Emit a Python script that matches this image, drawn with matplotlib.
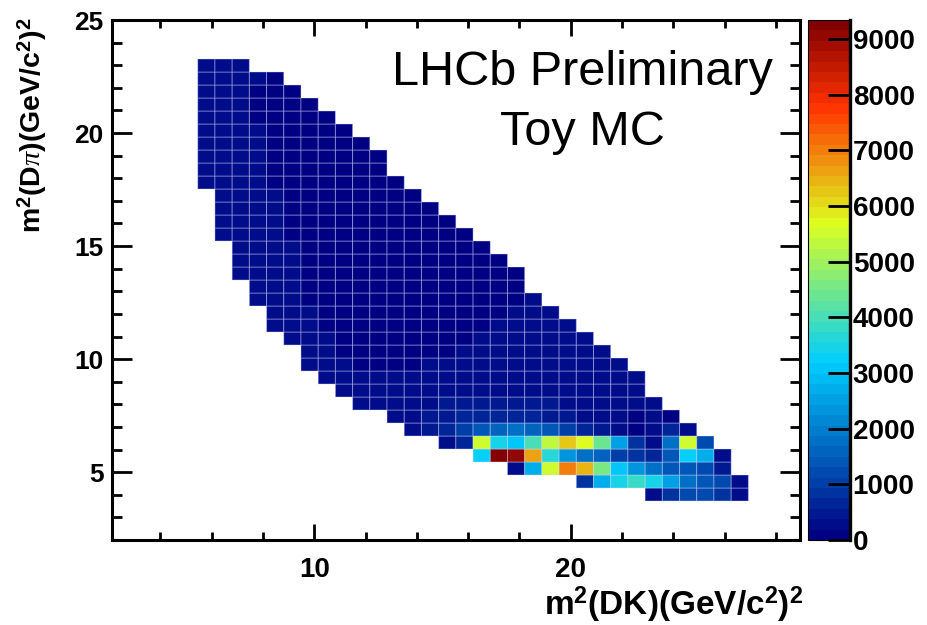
import numpy as np
import matplotlib
matplotlib.use('Agg')
import matplotlib.pyplot as plt
from matplotlib.colors import LinearSegmentedColormap, Normalize
from matplotlib.ticker import MultipleLocator

plt.rcParams['font.family'] = 'Liberation Sans'
plt.rcParams['mathtext.fontset'] = 'custom'
plt.rcParams['mathtext.rm'] = 'Liberation Sans:bold'
plt.rcParams['mathtext.bf'] = 'Liberation Sans:bold'
plt.rcParams['mathtext.it'] = 'Liberation Serif:italic'

# histogram binning: m2(DK) on x, m2(Dpi) on y
x_lo, x_hi, nx = 2.1, 28.94, 40
y_lo, y_hi, ny = 2.0, 25.0, 40
z_max = 9340

# filled rows (m2(Dpi) bin index), first filled m2(DK) bin, and the bin contents
row_index = [36, 35, 34, 33, 32, 31, 30, 29, 28, 27, 26, 25, 24, 23, 22, 21, 20,
             19, 18, 17, 16, 15, 14, 13, 12, 11, 10, 9, 8, 7, 6, 5, 4, 3]
row_start = [5, 5, 5, 5, 5, 5, 5, 5, 5, 5, 6, 6, 6, 6, 7, 7, 7,
             8, 8, 9, 9, 10, 11, 11, 12, 13, 14, 16, 17, 19, 21, 23, 27, 31]
row_counts = [
    [280, 320, 240],
    [300, 340, 260, 190, 170],
    [290, 320, 250, 180, 150, 150],
    [310, 300, 230, 170, 140, 130, 140],
    [300, 310, 220, 180, 150, 130, 120, 140],
    [290, 300, 230, 190, 150, 130, 120, 110, 130],
    [310, 320, 240, 190, 160, 140, 120, 110, 110, 120],
    [300, 330, 250, 200, 170, 140, 130, 120, 110, 100, 130],
    [320, 310, 240, 210, 170, 150, 130, 120, 110, 100, 120],
    [290, 320, 260, 200, 180, 150, 140, 120, 110, 110, 100, 130],
    [330, 270, 220, 190, 160, 140, 130, 120, 110, 100, 100, 120],
    [320, 260, 220, 190, 170, 150, 130, 120, 110, 100, 100, 110, 130],
    [310, 270, 230, 200, 170, 150, 140, 130, 120, 110, 100, 100, 110, 140],
    [300, 260, 220, 200, 180, 160, 140, 130, 120, 110, 100, 100, 110, 120, 150],
    [280, 240, 210, 190, 170, 150, 140, 130, 120, 110, 100, 110, 120, 130, 150],
    [270, 240, 220, 190, 170, 150, 140, 130, 120, 110, 110, 110, 120, 130, 140, 160],
    [260, 230, 210, 190, 170, 160, 150, 140, 130, 120, 110, 110, 120, 130, 140, 150, 170],
    [250, 220, 200, 180, 160, 150, 140, 130, 120, 120, 120, 130, 140, 150, 160, 180],
    [240, 220, 200, 180, 170, 160, 150, 140, 130, 130, 130, 140, 150, 160, 170, 180, 190],
    [230, 210, 190, 180, 170, 160, 150, 140, 140, 140, 150, 160, 170, 180, 190, 200, 200],
    [220, 210, 190, 180, 170, 160, 150, 150, 150, 150, 160, 170, 180, 190, 200, 210, 210, 200],
    [210, 200, 190, 180, 170, 160, 160, 160, 160, 170, 180, 190, 200, 210, 220, 220, 210, 200],
    [200, 190, 180, 170, 170, 170, 170, 170, 180, 190, 200, 210, 220, 230, 230, 220, 210, 200],
    [210, 200, 190, 180, 180, 180, 180, 190, 200, 210, 220, 240, 250, 250, 240, 230, 220, 200, 190],
    [210, 200, 200, 190, 190, 200, 210, 220, 240, 260, 280, 290, 290, 280, 260, 240, 220, 200, 190],
    [220, 210, 210, 220, 230, 250, 280, 310, 340, 360, 370, 360, 330, 300, 260, 230, 200, 190],
    [230, 240, 260, 290, 330, 380, 440, 480, 500, 490, 460, 420, 370, 310, 260, 220, 200, 190],
    [280, 330, 420, 520, 600, 650, 680, 660, 620, 560, 420, 300, 230, 190, 180, 190, 170],
    [250, 400, 650, 1050, 1400, 1550, 1700, 1550, 1400, 950, 650, 380, 220, 180, 280, 620, 200],
    [230, 700, 5500, 3500, 3100, 3950, 5350, 6200, 5700, 4450, 2600, 780, 250, 1700, 5500, 1250],
    [3250, 9340, 9150, 6600, 3700, 2300, 1800, 1500, 1100, 800, 700, 1400, 3250, 2650, 220],
    [230, 2650, 5450, 7000, 6500, 4500, 3100, 2300, 1750, 1350, 1350, 1200, 550],
    [850, 2650, 3500, 3750, 3500, 2500, 1700, 1450, 1150, 280],
    [280, 900, 1150, 1150, 850, 220],
]

counts = np.zeros((ny, nx))
for j, i0, vals in zip(row_index, row_start, row_counts):
    counts[j, i0:i0 + len(vals)] = vals
counts = np.ma.masked_equal(counts, 0)

x_edges = np.linspace(x_lo, x_hi, nx + 1)
y_edges = np.linspace(y_lo, y_hi, ny + 1)

# ROOT-like 5-stop rainbow palette with 50 levels
palette = LinearSegmentedColormap.from_list(
    'root_palette',
    [(0.00, (0.00, 0.00, 0.51)),
     (0.34, (0.00, 0.81, 1.00)),
     (0.61, (0.87, 1.00, 0.12)),
     (0.84, (1.00, 0.20, 0.00)),
     (1.00, (0.51, 0.00, 0.00))],
    N=50)
norm = Normalize(vmin=0, vmax=z_max)

fig = plt.figure(figsize=(9.27, 6.25), dpi=100)
ax = fig.add_axes([0.1205, 0.136, 0.7425, 0.832])
cax = fig.add_axes([0.8716, 0.136, 0.0453, 0.832])

mesh = ax.pcolor(x_edges, y_edges, counts, cmap=palette, norm=norm,
                 edgecolors=(0.85, 0.85, 1, 0.4), linewidth=0.7)

ax.set_xlim(x_lo, x_hi)
ax.set_ylim(y_lo, y_hi)
ax.xaxis.set_major_locator(MultipleLocator(10))
ax.xaxis.set_minor_locator(MultipleLocator(2))
ax.yaxis.set_major_locator(MultipleLocator(5))
ax.yaxis.set_minor_locator(MultipleLocator(1))
ax.tick_params(axis='both', which='both', direction='in', top=True, right=True, width=2)
ax.tick_params(axis='x', which='major', length=11.5, pad=12, labelsize=20)
ax.tick_params(axis='x', which='minor', length=5.5)
ax.tick_params(axis='y', which='major', length=14.5, pad=6, labelsize=19)
ax.tick_params(axis='y', which='minor', length=7)
for lab in ax.get_xticklabels() + ax.get_yticklabels():
    lab.set_fontweight('bold')
for sp in ax.spines.values():
    sp.set_linewidth(2.2)

cb = fig.colorbar(mesh, cax=cax)
cb.set_ticks(np.arange(0, 9001, 1000))
cb.outline.set_linewidth(0.8)
cax.tick_params(direction='in', length=16, width=2, pad=2, labelsize=20)
for lab in cax.get_yticklabels():
    lab.set_fontweight('bold')
cax.plot([1, 1], [0, 1], transform=cax.transAxes, color='black', lw=2.4, clip_on=False)

fig.text(803 / 927, 0.016, r'm$^{2}$(DK)(GeV/c$^{2}$)$^{2}$', ha='right', va='baseline',
         fontsize=24, fontweight='bold')
fig.text(32 / 927, 1 - 17 / 625, r'm$^{2}$(D$\pi$)(GeV/c$^{2}$)$^{2}$', rotation=90,
         ha='center', va='top', fontsize=20.5, fontweight='bold')

fig.text(582 / 927, 1 - 85 / 625, 'LHCb Preliminary', ha='center', va='baseline', fontsize=35)
fig.text(582 / 927, 1 - 145 / 625, 'Toy MC', ha='center', va='baseline', fontsize=35)

fig.savefig('out.png', dpi=100)
